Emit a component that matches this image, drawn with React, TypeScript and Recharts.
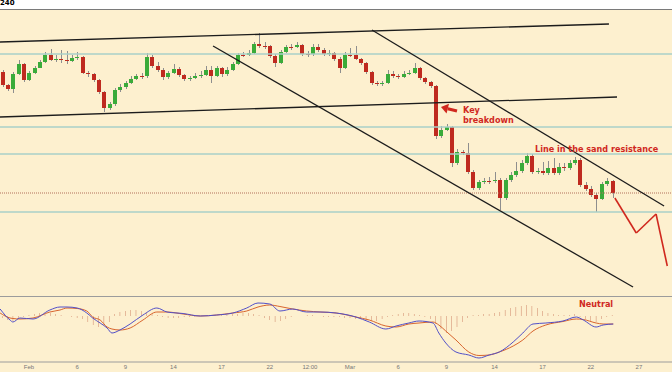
import { Bar, ComposedChart, Line, ReferenceLine, XAxis, YAxis } from 'recharts'

const W = 672
const X_DOMAIN: [number, number] = [-0.42, 125.18]

// candles (one per 8h), price in chart points
const FIRST_OPEN = 228
const closes = [
  215, 211, 226, 236, 220, 227, 232, 238, 245, 240,
  241, 240, 239, 242, 243, 227, 226, 220, 208, 192,
  196, 210, 213, 217, 221, 224, 224, 243, 234, 230,
  223, 227, 231, 225, 221, 222, 224, 225, 230, 224,
  232, 226, 230, 236, 245, 245, 247, 256, 254, 254,
  244, 237, 248, 253, 253, 255, 246, 246, 253, 250,
  246, 247, 241, 232, 245, 245, 241, 237, 228, 217,
  216, 217, 226, 224, 223, 226, 227, 232, 222, 218,
  214, 164, 170, 173, 137, 148, 147, 128, 112, 118,
  119, 119, 120, 102, 120, 125, 129, 137, 144, 128,
  129, 127, 132, 127, 133, 132, 137, 140, 115, 111,
  105, 101, 116, 119, 107,
]
const highs = [
  230, 216, 228, 240, 237, 229, 234, 240, 248, 251,
  245, 250, 249, 245, 248, 244, 229, 227, 221, 209,
  198, 212, 216, 219, 224, 226, 227, 247, 245, 238,
  232, 229, 236, 233, 226, 224, 227, 229, 234, 234,
  234, 233, 233, 238, 247, 248, 250, 258, 267, 258,
  255, 246, 250, 255, 256, 258, 256, 249, 256, 256,
  252, 250, 248, 243, 248, 252, 254, 242, 238, 229,
  219, 219, 230, 229, 226, 229, 230, 237, 233, 223,
  219, 215, 174, 176, 174, 151, 150, 157, 130, 120,
  122, 123, 128, 122, 122, 128, 138, 140, 147, 146,
  132, 138, 139, 142, 137, 137, 140, 143, 142, 118,
  114, 107, 118, 122, 120,
]
const lows = [
  213, 209, 207, 225, 218, 219, 226, 234, 237, 239,
  238, 237, 236, 238, 240, 226, 223, 218, 206, 188,
  190, 194, 208, 211, 216, 220, 221, 222, 232, 228,
  220, 221, 226, 223, 219, 219, 221, 222, 224, 217,
  223, 223, 224, 229, 235, 243, 244, 246, 252, 251,
  242, 233, 236, 247, 250, 252, 244, 243, 244, 248,
  244, 244, 239, 227, 231, 243, 240, 235, 226, 215,
  214, 214, 216, 222, 221, 222, 225, 226, 220, 216,
  212, 161, 162, 169, 133, 135, 145, 126, 110, 110,
  116, 116, 117, 90, 100, 118, 123, 127, 135, 126,
  126, 125, 125, 125, 125, 129, 130, 135, 113, 109,
  103, 88, 100, 114, 102,
]

const tickPos = [5, 14, 23, 32, 41, 50, 57.5, 65, 74, 83, 92, 101, 110, 119]
const tickLabels = ['Feb', '6', '9', '14', '17', '22', '12:00', 'Mar', '6', '9', '14', '17', '22', '27']

const levels = [246, 173, 146, 88]
const lastPrice = 107

// x1, y1, x2, y2 (bar index, price)
const trendLines = [
  [-0.42, 258, 113.4, 276],
  [-0.42, 183, 114.9, 203],
  [69.1, 270, 123.7, 94],
  [39.4, 254, 117.9, 13],
]
const projX = [114.5, 118.5, 122.2, 124.3]
const projY = [102, 67, 86, 34]
const arrowSeg = [85.0, 189, 82.0, 193]

// MACD panel
const macdX = [
  -0.4, 1.45, 2.0, 3.3, 5.75, 8.9, 10.8, 12.1, 14.0, 15.8,
  16.9, 18.3, 19.6, 20.5, 22.0, 23.9, 26.3, 28.9, 30.8, 33.8,
  37.0, 40.1, 43.1, 45.7, 47.8, 50.0, 51.9, 54.3, 56.9, 59.4,
  62.4, 66.1, 68.6, 71.7, 73.6, 76.0, 77.9, 80.5, 81.6, 82.9,
  84.8, 87.2, 89.1, 91.0, 92.9, 95.5, 97.3, 99.2, 101.6, 104.8,
  107.3, 108.6, 111.0, 112.3, 114.2,
]
const macdLine = [
  7, -4, -6, -2, -3, 6, 9, 9, 8, 3,
  -2, -7, -12, -17, -14, -8, 1, 8, 4, 2.5,
  0, 1, 3, 8, 13, 12, 5, 7, 4, 4,
  3, -1, -6, -13, -10, -7, -5, -7, -17, -27,
  -36, -39, -42, -39, -36, -26, -17, -8, -7, -5,
  -1, -4, -11, -9, -8,
]
const signalLine = [
  3, -2, -2.5, -3, -2, 4, 6, 8, 7.5, 5,
  -1, -4, -11, -13, -14, -12, -4, 4, 4, 2,
  0, 1, 3, 5, 9, 11, 9.5, 7, 5, 4,
  3, -1, -4, -10, -11, -8, -7, -6, -9, -15,
  -24, -36, -39.5, -39, -36, -30, -24, -15, -9, -5.5,
  -3, -3.5, -7, -8, -8,
]
const hist = [
  -2, -4, -5, -3, -1, 1, 2, 3, 3, 3,
  2, 1, 0, -1, -2, -3, -6, -9, -11, -10,
  -6, 2, 4, 5, 6, 6, 5, 4, 2, 1,
  -1, -2, -2, -2, -1, -1, -1, 0, 0, 0,
  0, 1, 1, 2, 2, 3, 3, 2, 1, -2,
  -4, -6, -5, -3, -1, 0, 0, 1, 1, 0,
  -1, -1, -1, -1, -2, -2, -3, -3, -4, -5,
  -5, -3, -1, 1, 2, 3, 3, 2, 1, -1,
  -3, -8, -13, -17, -15, -11, -6, -2, 1, 1,
  2, 2, 3, 4, 6, 8, 9, 10, 11, 10,
  8, 5, 3, 2, 1, 1, 1, 2, -1, -3,
  -5, -6, -3, -1, 1,
]

const RED = '#d0281e'

const candleRows = closes.map((c, i) => ({
  i,
  open: i === 0 ? FIRST_OPEN : closes[i - 1],
  high: highs[i],
  low: lows[i],
  close: c,
}))

const macdRows = [
  ...hist.map((h, i) => ({ i, hist: h } as Record<string, number>)),
  ...macdX.map((x, k) => ({ i: x, macd: macdLine[k], signal: signalLine[k] } as Record<string, number>)),
].sort((a, b) => a.i - b.i)

function Candle(p: any) {
  const { x, y, width, height, payload } = p
  if (!payload || !Number.isFinite(y) || !Number.isFinite(height)) return null
  const { open, close, high, low } = payload
  const top = Math.min(y, y + height)
  const bot = Math.max(y, y + height)
  const k = (bot - top) / (high - low || 1)
  const py = (v: number) => top + (high - v) * k
  const bx = Math.round(x + width / 2 - 2)
  const bTop = Math.round(py(Math.max(open, close)))
  const bBot = Math.round(py(Math.min(open, close)))
  const up = close > open
  return (
    <g>
      <rect x={bx + 2} y={top} width={1} height={bot - top} fill="#8e8e8e" />
      <rect x={bx} y={bTop} width={4} height={Math.max(1, bBot - bTop)} fill={up ? '#3aab3a' : '#bf2a1f'} />
    </g>
  )
}

function Arrow(p: any) {
  const { x1, y1, x2, y2 } = p
  // x2,y2 is the head
  const dx = x2 - x1
  const dy = y2 - y1
  const len = Math.hypot(dx, dy) || 1
  const ux = dx / len
  const uy = dy / len
  const bx = x2 - ux * 7
  const by = y2 - uy * 7
  return (
    <g>
      <line x1={x1} y1={y1} x2={bx} y2={by} stroke={RED} strokeWidth={3} />
      <polygon
        points={`${x2},${y2} ${bx - uy * 5},${by + ux * 5} ${bx + uy * 5},${by - ux * 5}`}
        fill={RED}
      />
    </g>
  )
}

const noteStyle: React.CSSProperties = {
  position: 'absolute',
  color: RED,
  fontWeight: 'bold',
  fontSize: 8.1,
  lineHeight: 1,
  whiteSpace: 'nowrap',
}

export default function App() {
  return (
    <div
      style={{
        position: 'absolute',
        left: 0,
        top: 0,
        width: W,
        height: 372,
        overflow: 'hidden',
        background: '#fdf0cf',
        fontFamily: '"DejaVu Sans", sans-serif',
      }}
    >
      <div style={{ position: 'absolute', left: 0, top: 0, width: W, height: 10, background: '#fff', borderBottom: '1px solid #7a7a7a', boxSizing: 'border-box' }} />
      <div style={{ position: 'absolute', left: 0, top: 0, fontSize: 7, fontWeight: 'bold', lineHeight: 1 }}>240</div>

      <div style={{ position: 'absolute', left: 0, top: 10 }}>
        <ComposedChart width={W} height={286} data={candleRows} margin={{ top: 0, right: 0, bottom: 0, left: 0 }}>
          <XAxis type="number" dataKey="i" domain={X_DOMAIN} allowDataOverflow hide />
          <YAxis domain={[4, 290]} allowDataOverflow hide />
          {levels.map((v) => (
            <ReferenceLine key={v} y={v} stroke="#a9d1c8" strokeWidth={1.5} />
          ))}
          <ReferenceLine y={lastPrice} stroke="#b2705a" strokeDasharray="1 1" />
          <Bar
            dataKey={(d: any) => [d.low, d.high]}
            barSize={4}
            shape={(p: any) => <Candle {...p} />}
            isAnimationActive={false}
          />
          {trendLines.map((t, k) => (
            <ReferenceLine
              key={k}
              segment={[{ x: t[0], y: t[1] }, { x: t[2], y: t[3] }]}
              stroke="#1c1c1c"
              strokeWidth={1.3}
              ifOverflow="visible"
            />
          ))}
          {projX.slice(1).map((x, k) => (
            <ReferenceLine
              key={'p' + k}
              segment={[{ x: projX[k], y: projY[k] }, { x, y: projY[k + 1] }]}
              stroke={RED}
              strokeWidth={1.6}
              ifOverflow="visible"
            />
          ))}
          <ReferenceLine
            segment={[{ x: arrowSeg[0], y: arrowSeg[1] }, { x: arrowSeg[2], y: arrowSeg[3] }]}
            shape={(p: any) => <Arrow {...p} />}
            ifOverflow="visible"
          />
        </ComposedChart>
      </div>

      <div style={{ ...noteStyle, left: 463, top: 106 }}>Key</div>
      <div style={{ ...noteStyle, left: 463, top: 116 }}>breakdown</div>
      <div style={{ ...noteStyle, left: 535, top: 145 }}>Line in the sand resistance</div>

      <div style={{ position: 'absolute', left: 0, top: 296, width: W, height: 0, borderTop: '1px solid #9c9c9c' }} />
      <div style={{ position: 'absolute', left: 0, top: 296 }}>
        <ComposedChart width={W} height={76} data={macdRows} margin={{ top: 0, right: 0, bottom: 0, left: 0 }}>
          <XAxis
            type="number"
            dataKey="i"
            domain={X_DOMAIN}
            allowDataOverflow
            ticks={tickPos}
            interval={0}
            tickFormatter={(v: number) => tickLabels[tickPos.indexOf(v)] ?? ''}
            height={10}
            tickLine={false}
            tickSize={0}
            tickMargin={3}
            stroke="#9c9c9c"
            tick={{ fontSize: 6, fill: '#777', fontFamily: '"Liberation Sans", Arial, sans-serif' }}
          />
          <YAxis domain={[-46, 20]} allowDataOverflow hide />
          <Bar dataKey="hist" barSize={2} fill="#cc7f62" isAnimationActive={false} />
          <Line type="monotone" dataKey="signal" stroke="#d8652e" strokeWidth={1} dot={false} connectNulls isAnimationActive={false} />
          <Line type="monotone" dataKey="macd" stroke="#5250c8" strokeWidth={1} dot={false} connectNulls isAnimationActive={false} />
        </ComposedChart>
      </div>
      <div style={{ ...noteStyle, left: 579, top: 300 }}>Neutral</div>
    </div>
  )
}
